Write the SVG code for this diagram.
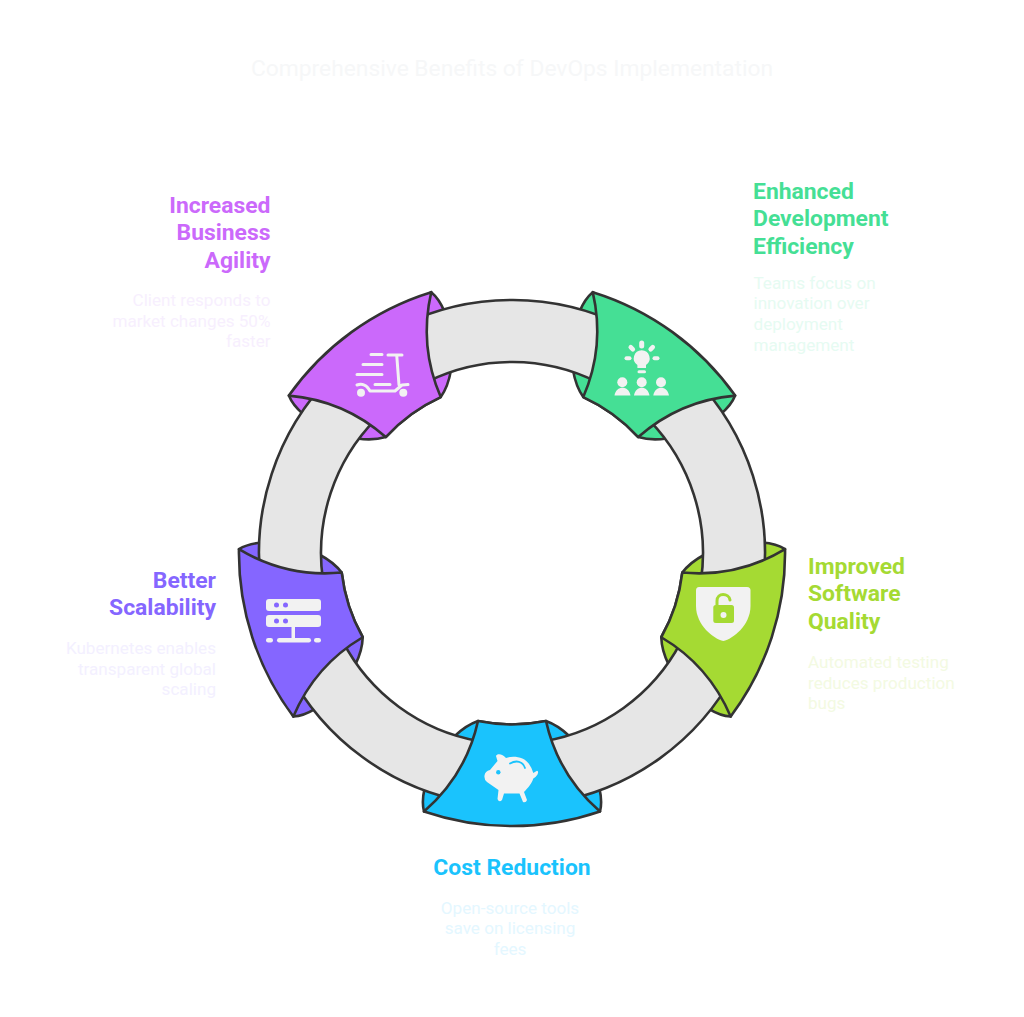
<svg xmlns="http://www.w3.org/2000/svg" width="1024" height="1017" viewBox="0 0 1024 1017">
<style>
text{font-family:Roboto,"Liberation Sans",sans-serif}
.h{font-size:22.9px;font-weight:700}
.d{font-size:17.1px}
.r{text-anchor:end}
.m{text-anchor:middle}
.o{stroke:#333;stroke-width:2.6;stroke-linejoin:round}
.g{fill:#e6e6e6}
.ic{fill:#f2f2f2;stroke:none}
.il{fill:none;stroke:#f2f2f2;stroke-width:3;stroke-linecap:round;stroke-linejoin:round}
</style>
<defs>
<path id="flap" d="M88,-258.500C95,-232 68,-180 34,-168A171.500 171.500 0 0 0 -34,-168C-68,-180 -95,-232 -88,-258.500Z"/>
<path id="front" d="M-88,-258.500A273 273 0 0 1 88,-258.500Q46,-222 34,-168A171.500 171.500 0 0 0 -34,-168Q-46,-222 -88,-258.500Z"/>
<path id="seg" d="M43.900,-249.200A253 253 0 0 1 224.400,-116.800L169.400,-88.200A191 191 0 0 0 33.200,-188.100Z"/>
</defs>
<rect width="1024" height="1017" fill="#fff"/>
<text x="512" y="76" class="m" fill="#f6f7f8" style="font-size:22.800px">Comprehensive Benefits of DevOps Implementation</text>
<g id="flaps" transform="translate(512 553)">
<use href="#flap" class="o" fill="#cb69fb" transform="rotate(-36)"/>
<use href="#flap" class="o" fill="#45df95" transform="rotate(36)"/>
<use href="#flap" class="o" fill="#a5da33" transform="rotate(108)"/>
<use href="#flap" class="o" fill="#1ac3fd" transform="rotate(180)"/>
<use href="#flap" class="o" fill="#8566ff" transform="rotate(252)"/>
</g>
<g id="connectors" transform="translate(512 553)">
<use href="#seg" class="o g" transform="rotate(-36)"/>
<use href="#seg" class="o g" transform="rotate(36)"/>
<use href="#seg" class="o g" transform="rotate(108)"/>
<use href="#seg" class="o g" transform="rotate(180)"/>
<use href="#seg" class="o g" transform="rotate(252)"/>
</g>
<g id="node-agility">
<use href="#front" class="o" fill="#cb69fb" transform="translate(512 553) rotate(-36)"/>
<path class="il" d="M388,355H402M396.700,355L399,385M371,354.500H382M363,364.500H382M357,374.500H382M375,384.500H390M357,385C362,383 367,385 370,391H395L402,385L408,384.500"/>
<circle class="ic" cx="361" cy="392.700" r="4"/><circle class="ic" cx="403.300" cy="392.700" r="4"/>
<text class="h r" fill="#cb69fb"><tspan x="270.500" y="212.500">Increased</tspan><tspan x="270.500" y="240">Business</tspan><tspan x="270.500" y="267.500">Agility</tspan></text>
<text class="d r" fill="#f7effe"><tspan x="270.500" y="306">Client responds to</tspan><tspan x="270.500" y="326.500">market changes 50%</tspan><tspan x="270.500" y="347">faster</tspan></text>
</g>
<g id="node-efficiency">
<use href="#front" class="o" fill="#45df95" transform="translate(512 553) rotate(36)"/>
<path class="ic" d="M641.700,350.300A8 8 0 0 1 646,365V368H637.400V365A8 8 0 0 1 641.700,350.300Z"/>
<g class="ic"><rect x="639.200" y="340.500" width="5" height="8" rx="2.500"/><rect x="637.500" y="370.300" width="8.500" height="3" rx="1.500"/><rect x="624.500" y="356.300" width="7" height="4" rx="2"/><rect x="652.500" y="356.300" width="7" height="4" rx="2"/>
<rect x="628" y="346" width="7.500" height="4.500" rx="2.200" transform="rotate(45 631.700 348.300)"/><rect x="648" y="346" width="7.500" height="4.500" rx="2.200" transform="rotate(-45 651.700 348.300)"/>
<circle cx="622.300" cy="382.300" r="5"/><circle cx="641.700" cy="382.300" r="5"/><circle cx="661" cy="382.300" r="5"/>
<path d="M614.500,395.500C616,385 629,385 630.500,395.500ZM634,395.500C635.500,385 648,385 649.500,395.500ZM653.300,395.500C654.800,385 667.500,385 669,395.500Z"/></g>
<text class="h" fill="#45df95"><tspan x="753" y="198.500">Enhanced</tspan><tspan x="753" y="226">Development</tspan><tspan x="753" y="253.500">Efficiency</tspan></text>
<text class="d" fill="#e6fbf2"><tspan x="753.500" y="289">Teams focus on</tspan><tspan x="753.500" y="309">innovation over</tspan><tspan x="753.500" y="330">deployment</tspan><tspan x="753.500" y="350.500">management</tspan></text>
</g>
<g id="node-quality">
<use href="#front" class="o" fill="#a5da33" transform="translate(512 553) rotate(108)"/>
<path class="ic" d="M699,587H747Q750.500,587 750.500,590.500V606C750.500,625 733,639 723.300,641C713.500,639 696,625 696,606V590.500Q696,587 699,587Z"/>
<path d="M717,605V601C717,592 729,593 730,600" fill="none" stroke="#a5da33" stroke-width="3" stroke-linecap="round"/>
<rect x="713.300" y="605" width="20.700" height="18" rx="2.500" fill="#a5da33"/><circle cx="723.500" cy="615" r="3" fill="#f2f2f2"/>
<text class="h" fill="#a5da33"><tspan x="808" y="574">Improved</tspan><tspan x="808" y="601">Software</tspan><tspan x="808" y="629">Quality</tspan></text>
<text class="d" fill="#f3fae2"><tspan x="808" y="668">Automated testing</tspan><tspan x="808" y="688.500">reduces production</tspan><tspan x="808" y="709">bugs</tspan></text>
</g>
<g id="node-cost">
<use href="#front" class="o" fill="#1ac3fd" transform="translate(512 553) rotate(180)"/>
<path class="ic" d="M496,756C497,753 503,754 506,758C513,755 525,757 529,764Q532,768 533.300,773L537,770.700Q539,771 537.500,774.500Q536,777 533.300,778.500C532,783 528,788 524,792L527,800Q526,803 523,802L519.500,793.500H504L502,800Q499,803 497.500,799L498.500,790L492,785.500L487,782Q484,780 484.500,775.500Q485,771 490,770L497.500,761Z"/>
<circle cx="498.300" cy="772.300" r="2.200" fill="#1ac3fd"/>
<path d="M510,763.500C516,760 523,761 525,768" fill="none" stroke="#1ac3fd" stroke-width="1.800" stroke-linecap="round"/>
<text class="h m" fill="#1ac3fd" x="512" y="875">Cost Reduction</text>
<text class="d m" fill="#e4f7ff"><tspan x="510" y="913.500">Open-source tools</tspan><tspan x="510" y="934">save on licensing</tspan><tspan x="510" y="954.500">fees</tspan></text>
</g>
<g id="node-scalability">
<use href="#front" class="o" fill="#8566ff" transform="translate(512 553) rotate(252)"/>
<rect class="ic" x="266" y="599" width="55" height="12" rx="3"/><rect class="ic" x="266" y="615" width="55" height="12" rx="3"/>
<g fill="#8566ff"><circle cx="276.500" cy="605" r="2.500"/><circle cx="285.500" cy="605" r="2.500"/><circle cx="276.500" cy="621" r="2.500"/><circle cx="285.500" cy="621" r="2.500"/></g>
<rect class="ic" x="291.500" y="627" width="3.500" height="12"/><rect class="ic" x="277" y="638" width="34" height="4.500" rx="2.200"/><rect class="ic" x="266" y="638" width="7" height="4.500" rx="2.200"/><rect class="ic" x="314" y="638" width="7" height="4.500" rx="2.200"/>
<text class="h r" fill="#8566ff"><tspan x="216" y="588">Better</tspan><tspan x="216" y="615">Scalability</tspan></text>
<text class="d r" fill="#f3f0ff"><tspan x="216" y="654">Kubernetes enables</tspan><tspan x="216" y="675">transparent global</tspan><tspan x="216" y="695">scaling</tspan></text>
</g>
</svg>
